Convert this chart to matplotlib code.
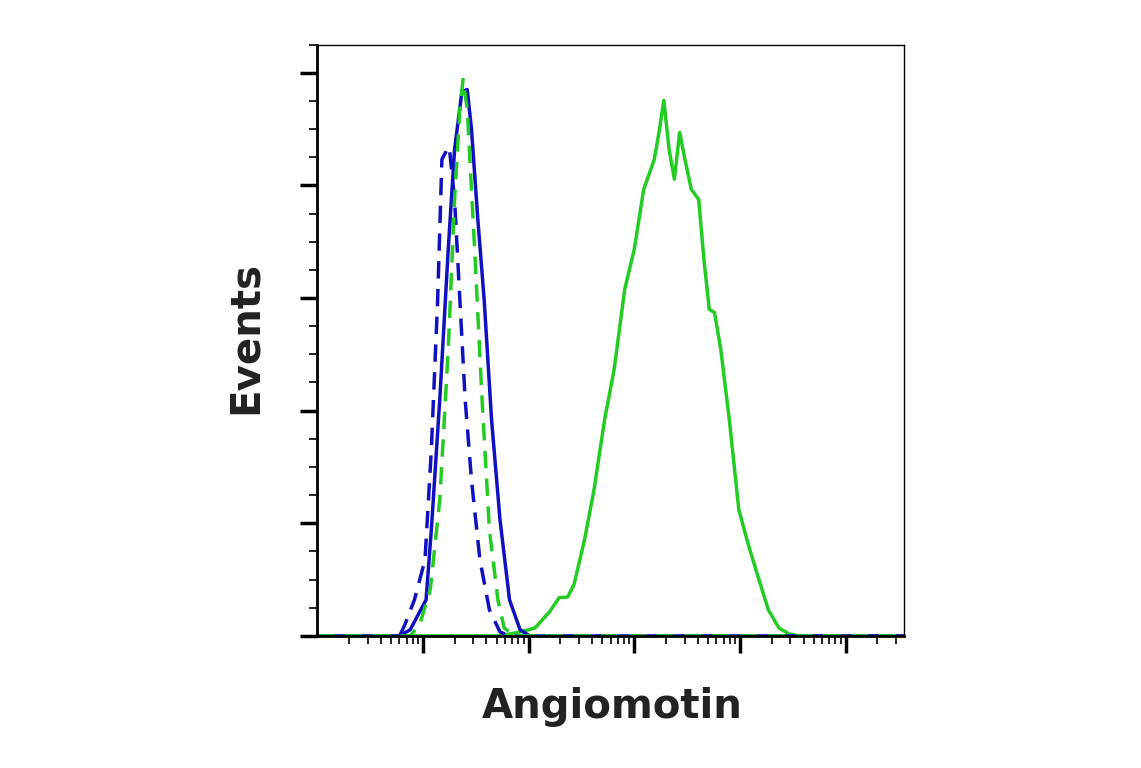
import numpy as np
import matplotlib
matplotlib.use("Agg")
import matplotlib.pyplot as plt

# x in log10 units, y in % of max
blue_solid_x = [1.0, 1.78, 1.88, 2.03, 2.08, 2.16, 2.24, 2.30, 2.37, 2.42, 2.46, 2.52, 2.58, 2.65, 2.73, 2.82, 2.92, 3.01, 6.55]
blue_solid_y = [0, 0, 1.1, 6.4, 18.8, 42, 68.6, 86.4, 96.7, 97, 90, 74, 59.7, 38.4, 20.6, 6.4, 1.1, 0, 0]

blue_dash_x = [1.0, 1.78, 1.83, 1.92, 2.02, 2.08, 2.14, 2.18, 2.23, 2.25, 2.30, 2.35, 2.40, 2.46, 2.54, 2.63, 2.73, 2.82, 6.55]
blue_dash_y = [0, 0, 2, 6.4, 13.5, 33, 59.7, 84.6, 86.4, 86.8, 77.5, 59.7, 42, 27.7, 13.5, 4.6, 0.7, 0, 0]

green_dash_x = [1.0, 1.88, 1.97, 2.07, 2.16, 2.24, 2.30, 2.35, 2.38, 2.42, 2.49, 2.56, 2.63, 2.71, 2.77, 2.87, 6.55]
green_dash_y = [0, 0, 2, 8.2, 24.2, 50.8, 77.5, 93.5, 98.8, 93.5, 68.6, 42, 18.8, 6.4, 1.4, 0, 0]

green_solid_x = [1.0, 2.73, 2.92, 3.06, 3.20, 3.29, 3.37, 3.43, 3.53, 3.62, 3.72, 3.81, 3.91, 4.0, 4.09, 4.19,
                 4.24, 4.28, 4.33, 4.38, 4.43, 4.48, 4.54, 4.61, 4.66, 4.71, 4.76, 4.82, 4.90, 4.99, 5.08,
                 5.18, 5.27, 5.37, 5.46, 5.56, 6.55]
green_solid_y = [0, 0, 0.7, 1.4, 4.3, 6.8, 6.9, 9.1, 17.1, 26, 38.4, 47.3, 61.5, 68.6, 79.3, 84.6,
                 90, 95.1, 86.4, 81.1, 89.4, 84.6, 79.3, 77.5, 66.8, 58, 57.4, 50.8, 38.4, 22.4, 16.2,
                 10, 4.6, 1.4, 0.4, 0, 0]

fig = plt.figure(figsize=(11.41, 7.68), dpi=100)
ax = fig.add_axes([0.278, 0.172, 0.514, 0.770])
blue = "#1010c0"
green = "#22cc22"
ax.plot(green_solid_x, green_solid_y, color=green, lw=2.5)
ax.plot(blue_dash_x, blue_dash_y, color=blue, lw=2.5, ls=(0, (5, 3)))
ax.plot(blue_solid_x, blue_solid_y, color=blue, lw=2.5)
ax.plot(green_dash_x, green_dash_y, color=green, lw=2.5, ls=(0, (5, 3)))

ax.set_xlim(1.0, 6.55)
ax.set_ylim(0, 105)
ax.set_xticks([2, 3, 4, 5, 6])
minors = [d + np.log10(k) for d in range(1, 7) for k in range(2, 10) if d + np.log10(k) < 6.55]
ax.set_xticks(minors, minor=True)
ax.set_yticks(np.arange(0, 101, 20))
ax.set_yticks(np.arange(0, 106, 5), minor=True)
ax.tick_params(which="major", length=12, width=2.5, direction="out", labelbottom=False, labelleft=False)
ax.tick_params(which="minor", length=6, width=1.2, direction="out")
for s in ax.spines.values():
    s.set_linewidth(1.0)
ax.spines["left"].set_linewidth(2)
ax.spines["bottom"].set_linewidth(2)

fam = ["Liberation Sans Narrow", "DejaVu Sans"]
fig.text(0.537, 0.08, "Angiomotin", ha="center", va="center", fontsize=29, fontweight="bold", color="#222222", family=fam)
fig.text(0.215, 0.56, "Events", ha="center", va="center", rotation=90, fontsize=29, fontweight="bold", color="#222222", family=fam)
fig.savefig("out.png", dpi=100)
